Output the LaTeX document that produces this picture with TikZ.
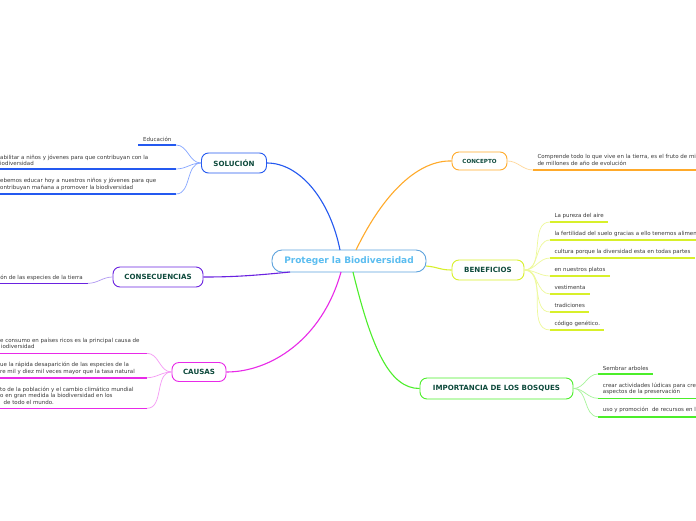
\documentclass[tikz,border=0pt]{standalone}
\usepackage{fontspec}
\setmainfont{DejaVu Sans}
\definecolor{cblue}{HTML}{2459F0}
\definecolor{cbluel}{HTML}{86A6FF}
\definecolor{cpur}{HTML}{6A22E0}
\definecolor{cpurl}{HTML}{B199F2}
\definecolor{cmag}{HTML}{E82AE8}
\definecolor{cmagl}{HTML}{F59AF5}
\definecolor{corg}{HTML}{FFAA2A}
\definecolor{corgl}{HTML}{FFD89A}
\definecolor{cyel}{HTML}{D8F02A}
\definecolor{cyell}{HTML}{EEF99A}
\definecolor{cgrn}{HTML}{4CEE2A}
\definecolor{cgrnl}{HTML}{A6F59A}
\definecolor{ccen}{HTML}{5DA3DD}
\definecolor{ccent}{HTML}{5BBDF0}
\definecolor{ctxt}{HTML}{0E4A3C}
\definecolor{cleaf}{HTML}{3A3A3A}
\tikzset{
  topic/.style={draw, rounded corners=7, fill=white, line width=0.9,
    font=\fontsize{7.1}{8}\selectfont\bfseries, text=ctxt, minimum height=19, inner sep=0},
  leaf/.style={font=\fontsize{5.5}{7}\selectfont, text=cleaf, anchor=base west, inner sep=0},
  under/.style={line width=1.6},
  mainline/.style={line width=1.1},
  twig/.style={line width=0.7}
}
\begin{document}
\begin{tikzpicture}[x=1pt,y=-1pt]
\useasboundingbox (0,0) rectangle (696,520);
\fill[white] (0,0) rectangle (696,520);
\clip (0,0) rectangle (696,520);

% central and topics
\node[draw=ccen, fill=white, rounded corners=10, line width=0.9, minimum width=154, minimum height=22, inner sep=0,
  text=ccent, font=\fontsize{9}{10}\selectfont\bfseries] (c) at (349,261) {Proteger la Biodiversidad};
\node[topic, draw=cblue, minimum width=65, minimum height=20] (sol) at (234,163) {SOLUCIÓN};
\node[topic, draw=cpur, minimum width=90, minimum height=20] (cons) at (158,277) {CONSECUENCIAS};
\node[topic, draw=cmag, minimum width=54, minimum height=19] (cau) at (199,372) {CAUSAS};
\node[topic, draw=corg, minimum width=55, minimum height=18, font=\fontsize{5.6}{7}\selectfont\bfseries] (con) at (479.5,161) {CONCEPTO};
\node[topic, draw=cyel, minimum width=72, minimum height=20] (ben) at (488,270) {BENEFICIOS};
\node[topic, draw=cgrn, minimum width=153, minimum height=21] (imp) at (496.5,388.5) {IMPORTANCIA DE LOS BOSQUES};

% main connectors
\coordinate (cb) at (340,250);
\coordinate (co) at (356,250);
\coordinate (cp) at (290,272);
\coordinate (cm) at (341,272);
\coordinate (cg) at (353,272);
\coordinate (cy) at (426,266);
\draw[mainline, cblue] (cb) .. controls (330,200) and (300,163) .. (sol.east);
\draw[mainline, corg] (co) .. controls (385,190) and (420,160) .. (con.west);
\draw[mainline, cpur] (cp) .. controls (250,276) and (230,277) .. (cons.east);
\draw[mainline, cmag] (cm) .. controls (322,340) and (270,372) .. (cau.east);
\draw[mainline, cgrn] (cg) .. controls (372,350) and (390,388.5) .. (imp.west);
\draw[mainline, cyel] (cy) .. controls (438,267) and (440,270) .. (ben.west);

% SOLUCION leaves
\coordinate (s1a) at (138,145); \coordinate (s1b) at (176,145);
\coordinate (s2a) at (0,169);   \coordinate (s2b) at (176,169);
\coordinate (s3a) at (0,194);   \coordinate (s3b) at (176,194);
\draw[under, cblue] (s1a) -- (s1b);
\draw[under, cblue] (s2a) -- (s2b);
\draw[under, cblue] (s3a) -- (s3b);
\draw[twig, cbluel] (sol.west) to[out=180,in=0] (s1b);
\draw[twig, cbluel] (sol.west) to[out=180,in=0] (s2b);
\draw[twig, cbluel] (sol.west) to[out=180,in=0] (s3b);
\node[leaf] (t1) at (143,141) {Educación};
\node[leaf] (t2) at (0,159) {abilitar a niños y jóvenes para que contribuyan con la};
\node[leaf] (t3) at (0,165) {iodiversidad};
\node[leaf] (t4) at (0,182.5) {ebemos educar hoy a nuestros niños y jóvenes para que};
\node[leaf] (t5) at (0,189.5) {ontribuyan mañana a promover la biodiversidad};

% CONSECUENCIAS leaf
\coordinate (k1a) at (0,283.3); \coordinate (k1b) at (88,283.3);
\draw[under, cpur] (k1a) -- (k1b);
\draw[twig, cpurl] (cons.west) to[out=180,in=0] (k1b);
\node[leaf, anchor=base east] (t6) at (83,279) {ión de las especies de la tierra};

% CAUSAS leaves
\coordinate (a1a) at (0,353.3); \coordinate (a1b) at (147,353.3);
\coordinate (a2a) at (0,377.7); \coordinate (a2b) at (147,377.7);
\coordinate (a3a) at (0,408.3); \coordinate (a3b) at (147,408.3);
\draw[under, cmag] (a1a) -- (a1b);
\draw[under, cmag] (a2a) -- (a2b);
\draw[under, cmag] (a3a) -- (a3b);
\draw[twig, cmagl] (cau.west) to[out=180,in=0] (a1b);
\draw[twig, cmagl] (cau.west) to[out=180,in=0] (a2b);
\draw[twig, cmagl] (cau.west) to[out=180,in=0] (a3b);
\node[leaf] (t7) at (0,342.3) {e consumo en países ricos es la principal causa de};
\node[leaf] (t8) at (0.8,348.5) {iodiversidad};
\node[leaf] (t9) at (0,366) {ue la rápida desaparición de las especies de la};
\node[leaf] (t10) at (0,373.5) {re mil y diez mil veces mayor que la tasa natural};
\node[leaf] (t11) at (0,391) {to de la población y el cambio climático mundial};
\node[leaf] (t12) at (0,397.5) {o en gran medida la biodiversidad en los};
\node[leaf] (t13) at (3.5,404.3) {de todo el mundo.};

% CONCEPTO leaf
\coordinate (p1a) at (533,170); \coordinate (p1b) at (696,170);
\draw[under, corg] (p1a) -- (p1b);
\draw[twig, corgl] (con.east) to[out=0,in=180] (p1a);
\node[leaf] (t14) at (537.3,158.3) {Comprende todo lo que vive en la tierra, es el fruto de mi};
\node[leaf] (t15) at (537.3,165.5) {de millones de año de evolución};

% BENEFICIOS leaves
\foreach \n/\y/\e/\txt in {
  b1/222/608/{La pureza del aire},
  b2/240/700/{la fertilidad del suelo gracias a ello tenemos alimen},
  b3/258/695/{cultura porque la diversidad esta en todas partes},
  b4/276/610/{en nuestros platos},
  b5/294/590/{vestimenta},
  b6/312/589/{tradiciones},
  b7/330/604/{código genético.}}{
  \coordinate (\n a) at (550,\y);
  \coordinate (\n b) at (\e,\y);
  \draw[under, cyel] (\n a) -- (\n b);
  \draw[twig, cyell] (ben.east) to[out=0,in=180] (\n a);
  \node[leaf] (\n t) at (554.3,\y-4.5) {\txt};
}

% IMPORTANCIA leaves
\coordinate (g1a) at (598,374); \coordinate (g1b) at (653,374);
\coordinate (g2a) at (598,398.3); \coordinate (g2b) at (700,398.3);
\coordinate (g3a) at (598,416.7); \coordinate (g3b) at (700,416.7);
\draw[under, cgrn] (g1a) -- (g1b);
\draw[under, cgrn] (g2a) -- (g2b);
\draw[under, cgrn] (g3a) -- (g3b);
\draw[twig, cgrnl] (imp.east) to[out=0,in=180] (g1a);
\draw[twig, cgrnl] (imp.east) to[out=0,in=180] (g2a);
\draw[twig, cgrnl] (imp.east) to[out=0,in=180] (g3a);
\node[leaf] (t16) at (602.7,370) {Sembrar arboles};
\node[leaf] (t17) at (602.7,387) {crear actividades lúdicas para crea};
\node[leaf] (t18) at (602.7,393.2) {aspectos de la preservación};
\node[leaf] (t19) at (602.7,411) {uso y promoción\ \ de recursos en l};
\end{tikzpicture}
\end{document}
